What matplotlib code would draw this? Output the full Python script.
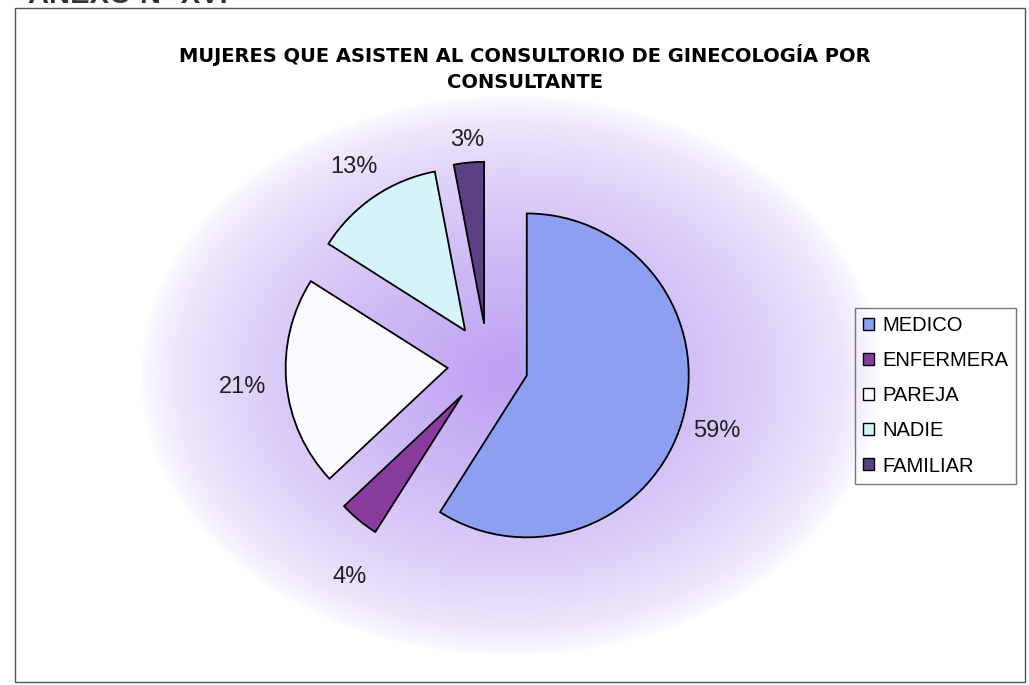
import numpy as np
import matplotlib.pyplot as plt
from matplotlib.patches import Rectangle

categories = ['MEDICO', 'ENFERMERA', 'PAREJA', 'NADIE', 'FAMILIAR']
values = [59, 4, 21, 13, 3]
colors = ['#8c9ff0', '#8a3c9e', '#fafaff', '#d4f4fa', '#5c3f86']
title = 'MUJERES QUE ASISTEN AL CONSULTORIO DE GINECOLOGÍA POR\nCONSULTANTE'
# where each percentage sits from its own slice centre (radii, degrees off the bisector)
label_dist = [1.22, 1.32, 1.27, 1.22, 1.14]
label_turn = [0, 8, 0, 0, 0]

plt.rcParams['font.family'] = ['Liberation Sans', 'DejaVu Sans']

W, H = 1029, 685
fig = plt.figure(figsize=(W / 100, H / 100), dpi=100)

# background with the purple radial glow
bg = fig.add_axes([0, 0, 1, 1])
yy, xx = np.mgrid[0:H, 0:W]
t = np.sqrt(((xx - 510) / 370.0) ** 2 + ((yy - 375) / 280.0) ** 2)
a = np.clip(1 - t, 0, 1) ** 0.6
purple = np.array([0.74, 0.63, 0.95])
img = np.ones((H, W, 3)) * (1 - a[..., None]) + purple * a[..., None]
bg.imshow(img, extent=[0, W, H, 0], aspect='auto')
bg.set_xlim(0, W)
bg.set_ylim(H, 0)
bg.axis('off')
bg.add_patch(Rectangle((15, 8), 1010, 674, fill=False, edgecolor='#555555', lw=1))
bg.text(28, 3, 'ANEXO N° XVI', fontsize=21, fontweight='bold', va='baseline',
        ha='left', color='#333333')

# pie
ax = fig.add_axes([196.4 / W, 29.4 / H, 583 / W, 583 / H])
wedges, texts, autotexts = ax.pie(
    values, colors=colors, startangle=90, counterclock=False,
    explode=[0.25] * len(values), autopct='%1.0f%%', pctdistance=1.25,
    wedgeprops=dict(edgecolor='black', linewidth=1.3),
    textprops=dict(fontsize=17, color='#222222'))
for w, at, d, turn in zip(wedges, autotexts, label_dist, label_turn):
    ang = np.deg2rad((w.theta1 + w.theta2) / 2 + turn)
    cx, cy = w.center
    at.set_position((cx + d * np.cos(ang), cy + d * np.sin(ang)))
ax.set_xlim(-1.8, 1.8)
ax.set_ylim(-1.8, 1.8)
ax.set_aspect('auto')
ax.axis('off')

fig.text(525 / W, 1 - 68 / H, title, ha='center', va='center', fontsize=14,
         fontweight='bold', family='DejaVu Sans', linespacing=1.45)

leg = ax.legend(categories, loc='upper left', bbox_to_anchor=(855 / W, 1 - 308 / H),
                bbox_transform=fig.transFigure, fontsize=14.5, frameon=True,
                fancybox=False, handlelength=0.55, handleheight=0.55,
                handletextpad=0.4, labelspacing=0.8, borderpad=0.4,
                borderaxespad=0)
leg.get_frame().set_edgecolor('#555555')
leg.get_frame().set_facecolor('none')
leg.get_frame().set_linewidth(1)
for h in leg.legend_handles:
    h.set_linewidth(1)

plt.savefig('out.png', dpi=100)
